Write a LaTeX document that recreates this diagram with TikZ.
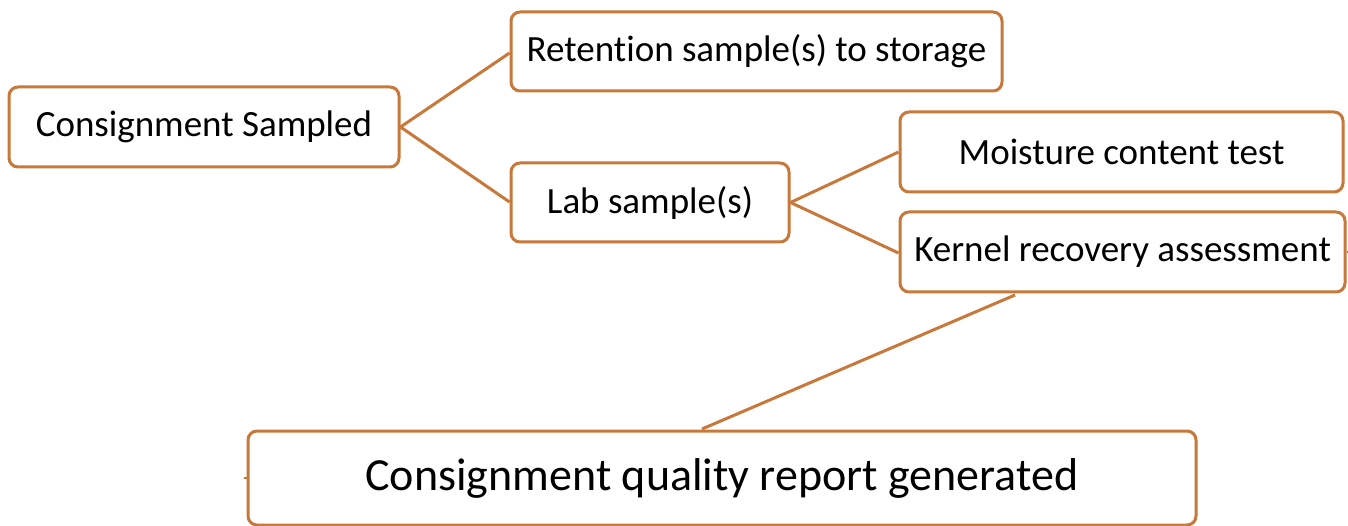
\documentclass[tikz,border=0pt]{standalone}
\usepackage{fontspec}
\setmainfont[Ligatures=NoCommon]{Carlito}
\definecolor{boxc}{RGB}{200,120,58}
\begin{document}
\begin{tikzpicture}[x=1pt,y=-1pt,
  bx/.style={draw=boxc,line width=3pt,rounded corners=9pt,inner sep=0pt,fill=white,
    font=\fontsize{37}{40}\selectfont,text=black},
  ln/.style={draw=boxc,line width=3pt}]
\useasboundingbox (0,0) rectangle (1348,526);
\coordinate (r1) at (511,53);
\coordinate (l1) at (511,202);
\coordinate (m1) at (900,152);
\coordinate (k1) at (900,253);
\coordinate (k2) at (1015,295);
\coordinate (c2) at (702,429);
\node[bx,minimum width=390pt,minimum height=80pt] (cs) at (204,127) {Consignment Sampled};
\node[bx,minimum width=491pt,minimum height=79pt] (rs) at (756.5,51.5) {Retention sample(s) to storage};
\node[bx,minimum width=278pt,minimum height=79pt] (lab) at (650,202.5) {Lab sample(s)};
\node[bx,minimum width=443pt,minimum height=80pt] (mc) at (1121.5,152) {Moisture content test};
\node[bx,minimum width=445pt,minimum height=80pt] (kr) at (1122.5,252) {Kernel recovery assessment};
\node[bx,minimum width=948pt,minimum height=94pt,font=\fontsize{46}{50}\selectfont] (qr) at (722,478) {Consignment quality report generated};
\draw[ln] (cs.east) -- (rs.west |- r1);
\draw[ln] (cs.east) -- (lab.west |- l1);
\draw[ln] (lab.east) -- (mc.west |- m1);
\draw[ln] (lab.east) -- (kr.west |- k1);
\draw[ln] (k2) -- (c2);
\draw[boxc,line width=1.5pt] (kr.east) -- ++(3,0);
\draw[boxc,line width=1.5pt] (qr.west) -- ++(-3,0);
\end{tikzpicture}
\end{document}
